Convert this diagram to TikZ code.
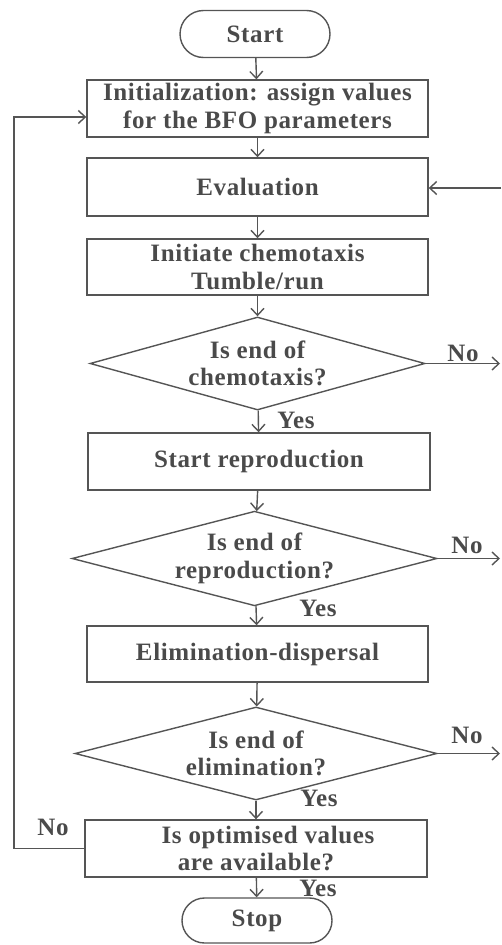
\documentclass[tikz,border=0pt]{standalone}
\usepackage{fontspec}
\setmainfont[LetterSpace=2.5]{Liberation Serif}
\usetikzlibrary{shapes.geometric,shapes.misc,arrows.meta}
\definecolor{linec}{HTML}{555555}
\definecolor{txt}{HTML}{4a4a4a}
\newcommand{\fsz}{\fontsize{25}{27.5}\selectfont\bfseries}
\tikzset{
  box/.style={draw=linec, line width=1.4pt, rectangle, minimum width=341pt, minimum height=57pt, align=center, text=txt, font=\fsz, inner sep=0pt},
  term/.style={draw=linec, line width=1.4pt, rounded rectangle, minimum width=150pt, minimum height=47pt, text=txt, font=\fsz, inner sep=0pt},
  dec/.style={draw=linec, line width=1.4pt, diamond, aspect=3.6, minimum height=93pt, align=center, text=txt, font=\fsz, inner sep=0pt},
  lab/.style={text=txt, font=\fsz, inner sep=0pt},
  arr/.style={draw=linec, line width=1.4pt, -{Straight Barb[length=7pt,width=13pt,line width=1.4pt]}},
  ln/.style={draw=linec, line width=1.4pt}
}
\begin{document}
\begin{tikzpicture}[x=1pt,y=-1pt]
\useasboundingbox (0,0) rectangle (501,945);
\node[term] (start) at (255,34) {Start};
\node[box] (init) at (257.5,108.5) {Initialization: assign values\\for the BFO parameters};
\node[box, minimum height=58pt] (eval) at (257.5,187) {Evaluation};
\node[box, minimum height=56pt] (chemo) at (257.5,267) {Initiate chemotaxis\\Tumble/run};
\node[dec, minimum width=335pt] (d1) at (257.5,363.5) {Is end of\\chemotaxis?};
\node[box, minimum width=342pt] (repro) at (259,461.5) {Start reproduction};
\node[dec, minimum width=365pt] (d2) at (254.5,558.5) {Is end of\\reproduction?};
\node[box, minimum height=56pt] (elim) at (257.5,654) {Elimination-dispersal};
\node[dec, minimum width=362pt] (d3) at (256,753.5) {Is end of\\elimination?};
\node[box, minimum width=342pt] (opt) at (256,848.5) {\hspace{24pt}Is optimised values\\are available?};
\node[term, minimum height=45pt] (stop) at (257,920.5) {Stop};

\coordinate (r1) at (500,363.5);
\coordinate (r2) at (500,558.5);
\coordinate (r3) at (500,753.5);
\coordinate (re) at (501,188);
\coordinate (lc) at (14,848.5);

\draw[arr] (start) -- (init);
\draw[arr] (init) -- (eval);
\draw[arr] (eval) -- (chemo);
\draw[arr] (chemo) -- (d1);
\draw[arr] (d1) -- (repro);
\draw[arr] (repro) -- (d2);
\draw[arr] (d2) -- (elim);
\draw[arr] (elim) -- (d3);
\draw[arr] (d3) -- (opt);
\draw[arr] (opt) -- (stop);

\draw[arr] (d1.east) -- (r1);
\draw[arr] (d2.east) -- (r2);
\draw[arr] (d3.east) -- (r3);
\draw[arr] (re) -- (eval.east|-re);
\draw[arr] (opt.west) -- (lc) |- ([yshift=-8.5pt]init.west);

\node[lab] (no1) at (463,353) {No};
\node[lab] (yes1) at (296,420) {Yes};
\node[lab] (no2) at (467,545) {No};
\node[lab] (yes2) at (318,608) {Yes};
\node[lab] (no3) at (467,735) {No};
\node[lab] (yes3) at (319,798) {Yes};
\node[lab] (no4) at (53,827) {No};
\node[lab] (yes4) at (318,888) {Yes};
\end{tikzpicture}
\end{document}
